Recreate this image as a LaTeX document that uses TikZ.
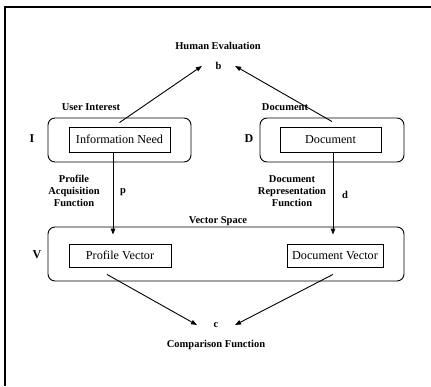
\documentclass[tikz,border=0pt]{standalone}
\usepackage{fontspec}
\setmainfont{Liberation Serif}
\usetikzlibrary{arrows.meta}
\begin{document}
\begin{tikzpicture}[x=1pt,y=-1pt,
  lbl/.style={font=\fontsize{10.5}{12}\selectfont\bfseries, inner sep=0pt, align=center},
  big/.style={font=\fontsize{12}{14}\selectfont\bfseries, inner sep=0pt},
  outerbox/.style={draw, line width=0.9pt, rounded corners=7pt, inner sep=0pt},
  innerbox/.style={draw, line width=0.9pt, inner sep=0pt, font=\fontsize{12.2}{14}\selectfont},
  arr/.style={draw, line width=0.9pt, -{Triangle[length=6pt,width=4.5pt]}},
  endpt/.style={font=\fontsize{10.5}{12}\selectfont\bfseries, inner ysep=0pt}
]
\useasboundingbox (0,0) rectangle (431,386);
\draw[line width=1.2pt] (5,386) -- (5,7) -- (431,7);

% top and bottom labels
\node[lbl] (he) at (218,46) {Human Evaluation};
\node[endpt, inner xsep=13.5pt] (b) at (218.5,66) {b};
\node[endpt, inner xsep=16.5pt] (c) at (216,325) {c};
\node[lbl] (cf) at (216,345) {Comparison Function};

% interest / document spaces
\node[outerbox, minimum width=143pt, minimum height=44pt] (outerI) at (119.5,140) {};
\node[innerbox, minimum width=101pt, minimum height=25pt] (innerI) at (119.5,139.5) {Information Need};
\node[outerbox, minimum width=144pt, minimum height=44pt] (outerD) at (332,140) {};
\node[innerbox, minimum width=101pt, minimum height=25pt] (innerD) at (330.5,139.5) {Document};

\node[lbl] (ui) at (91,107) {User Interest};
\node[lbl] (dl) at (285,107) {Document};
\node[big] (I) at (32,139) {I};
\node[big] (D) at (249,139) {D};

% vector space
\node[lbl] (vs) at (218,221) {Vector Space};
\node[outerbox, minimum width=356pt, minimum height=54pt] (outerV) at (226,254) {};
\node[innerbox, minimum width=102pt, minimum height=23pt] (pv) at (120,255.5) {Profile Vector};
\node[innerbox, minimum width=96pt, minimum height=23pt] (dv) at (335,255.5) {Document Vector};
\node[big] (V) at (37,255) {V};

% function labels
\node[lbl] (paf) at (74,191) {Profile\\Acquisition\\Function};
\node[lbl] (drf) at (292,191) {Document\\Representation\\Function};
\node[lbl] (p) at (123,192) {p};
\node[lbl] (d) at (345,195) {d};

% connectors
\draw[arr] ([yshift=-5pt]outerI.north) -- (b.west);
\draw[arr] ([yshift=-4pt]outerD.north) -- (b.east);
\draw[arr] ([xshift=-6.5pt]innerI.south) -- ([xshift=-7pt,yshift=9pt]pv.north);
\draw[arr] ([xshift=2.5pt]innerD.south) -- ([xshift=-2pt,yshift=9pt]dv.north);
\draw[arr] ([xshift=-13pt,yshift=-7pt]pv.south) -- (c.west);
\draw[arr] ([xshift=-2pt,yshift=-7pt]dv.south) -- (c.east);
\end{tikzpicture}
\end{document}
